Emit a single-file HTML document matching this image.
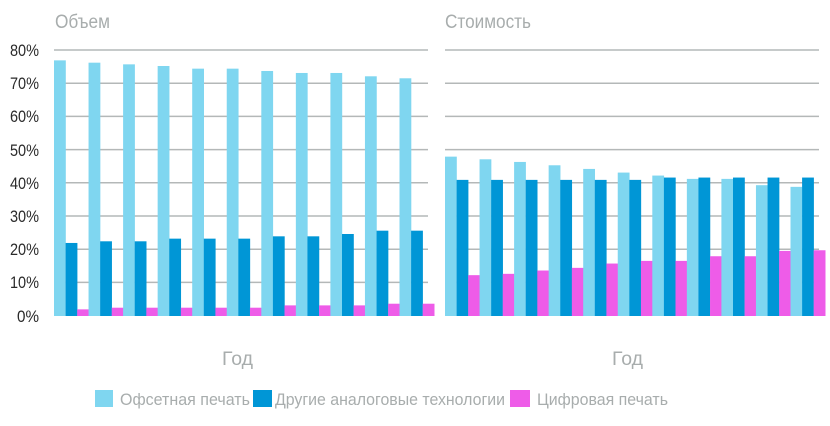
<!DOCTYPE html>
<html><head><meta charset="utf-8"><style>
html,body{margin:0;padding:0;background:#fff;width:830px;height:426px;overflow:hidden}
svg{display:block}
text{font-family:"Liberation Sans",sans-serif}
</style></head><body>
<svg width="830" height="426" xmlns="http://www.w3.org/2000/svg">
<g stroke="#b4b8b8" stroke-width="1.5">
<line x1="54" x2="428" y1="50" y2="50"/><line x1="54" x2="428" y1="83.2" y2="83.2"/><line x1="54" x2="428" y1="116.4" y2="116.4"/><line x1="54" x2="428" y1="149.6" y2="149.6"/><line x1="54" x2="428" y1="182.8" y2="182.8"/><line x1="54" x2="428" y1="216" y2="216"/><line x1="54" x2="428" y1="249.2" y2="249.2"/><line x1="54" x2="428" y1="282.4" y2="282.4"/>
<line x1="445" x2="819" y1="50" y2="50"/><line x1="445" x2="819" y1="83.2" y2="83.2"/><line x1="445" x2="819" y1="116.4" y2="116.4"/><line x1="445" x2="819" y1="149.6" y2="149.6"/><line x1="445" x2="819" y1="182.8" y2="182.8"/><line x1="445" x2="819" y1="216" y2="216"/><line x1="445" x2="819" y1="249.2" y2="249.2"/><line x1="445" x2="819" y1="282.4" y2="282.4"/>
</g>
<g id="bars"></g>
<g font-size="17" fill="#2a2a2a" text-anchor="end">
<text x="39" y="56" textLength="29" lengthAdjust="spacingAndGlyphs">80%</text>
<text x="39" y="89" textLength="29" lengthAdjust="spacingAndGlyphs">70%</text>
<text x="39" y="122" textLength="29" lengthAdjust="spacingAndGlyphs">60%</text>
<text x="39" y="156" textLength="29" lengthAdjust="spacingAndGlyphs">50%</text>
<text x="39" y="189" textLength="29" lengthAdjust="spacingAndGlyphs">40%</text>
<text x="39" y="222" textLength="29" lengthAdjust="spacingAndGlyphs">30%</text>
<text x="39" y="255" textLength="29" lengthAdjust="spacingAndGlyphs">20%</text>
<text x="39" y="288" textLength="29" lengthAdjust="spacingAndGlyphs">10%</text>
<text x="39" y="322" textLength="22" lengthAdjust="spacingAndGlyphs">0%</text>
</g>
<g font-size="19" fill="#a8adad">
<text x="55" y="28" textLength="55" lengthAdjust="spacingAndGlyphs">Объем</text>
<text x="445" y="28" textLength="86" lengthAdjust="spacingAndGlyphs">Стоимость</text>
<text x="222" y="365" textLength="31" lengthAdjust="spacingAndGlyphs">Год</text>
<text x="612" y="365" textLength="31" lengthAdjust="spacingAndGlyphs">Год</text>
</g>
<rect x="95" y="390" width="18" height="17" fill="#7fd6f0"/>
<rect x="253" y="390" width="19" height="17" fill="#0096d6"/>
<rect x="510" y="390" width="20" height="17" fill="#ee5ce8"/>
<g font-size="17" fill="#a8adad">
<text x="120" y="405" textLength="130" lengthAdjust="spacingAndGlyphs">Офсетная печать</text>
<text x="275" y="405" textLength="230" lengthAdjust="spacingAndGlyphs">Другие аналоговые технологии</text>
<text x="537" y="405" textLength="131" lengthAdjust="spacingAndGlyphs">Цифровая печать</text>
</g>
</svg>
<script>
var g=document.getElementById('bars');
function bars(x0,vals){
 var cols=['#7fd6f0','#0096d6','#ee5ce8'];
 for(var i=0;i<11;i++){for(var s=0;s<3;s++){
  var v=vals[s][i],h=v*3.32,x=x0+i*34.55+s*11.6;
  var r=document.createElementNS('http://www.w3.org/2000/svg','rect');
  r.setAttribute('x',x);r.setAttribute('y',316-h);r.setAttribute('width',11.8);r.setAttribute('height',h);r.setAttribute('fill',cols[s]);g.appendChild(r);
 }}
}
bars(54,[[77,76.3,75.8,75.3,74.5,74.5,73.8,73.2,73.2,72.2,71.6],[22,22.5,22.5,23.3,23.3,23.3,24,24,24.7,25.7,25.7],[2,2.5,2.5,2.5,2.5,2.5,3.2,3.2,3.2,3.7,3.7]]);
bars(445,[[48,47.2,46.4,45.4,44.3,43.2,42.3,41.3,41.3,39.4,38.9],[41,41,41,41,41,41,41.7,41.7,41.7,41.7,41.7],[12.3,12.7,13.7,14.5,15.8,16.6,16.6,18,18,19.6,19.8]]);
</script>
</body></html>
